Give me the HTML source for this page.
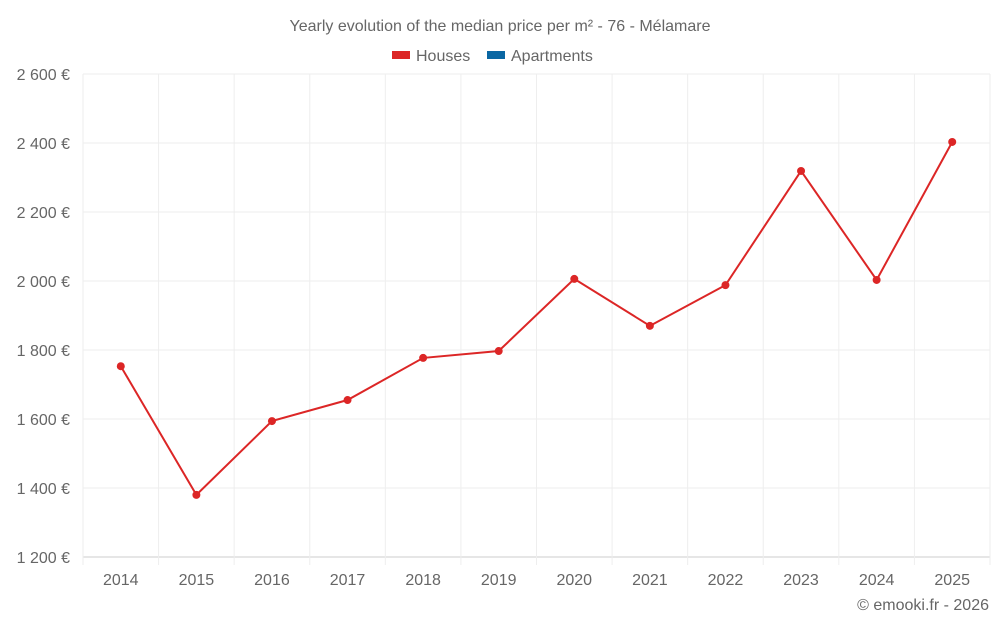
<!DOCTYPE html>
<html><head><meta charset="utf-8"><style>
body{margin:0;background:#fff;font-family:"Liberation Sans",sans-serif;}
svg text{font-family:"Liberation Sans",sans-serif;fill:#666;}
</style></head><body>
<svg id="c" width="1000" height="625">
<text x="500" y="31" text-anchor="middle" font-size="16">Yearly evolution of the median price per m² - 76 - Mélamare</text>
<g>
<rect x="392" y="51" width="18" height="8" fill="#dc2626"/>
<text x="416" y="61" font-size="16">Houses</text>
<rect x="487" y="51" width="18" height="8" fill="#0a67a3"/>
<text x="511" y="61" font-size="16">Apartments</text>
</g>
<g id="grid"></g><g id="axes"></g><g id="series"></g>
<text x="989" y="610" text-anchor="end" font-size="16">© emooki.fr - 2026</text>
</svg>
<script>
const years=["2014","2015","2016","2017","2018","2019","2020","2021","2022","2023","2024","2025"];
const houses=[1753,1380,1594,1655,1777,1797,2006,1870,1988,2319,2003,2403];
const yTicks=[1200,1400,1600,1800,2000,2200,2400,2600];
const yMin=1200,yMax=2600,pTop=74,pBot=557,pLeft=83,pRight=990;
const ns="http://www.w3.org/2000/svg";
const band=(pRight-pLeft)/years.length;
const X=i=>pLeft+band*(i+0.5);
const Y=v=>pBot-(v-yMin)/(yMax-yMin)*(pBot-pTop);
function mk(t,a,p){const e=document.createElementNS(ns,t);for(const k in a)e.setAttribute(k,a[k]);p.appendChild(e);return e;}
const g=document.getElementById('grid'),ax=document.getElementById('axes'),s=document.getElementById('series');
yTicks.forEach(v=>{
const l=mk('line',{x1:pLeft,x2:pRight,y1:Y(v),y2:Y(v),stroke:v===yMin?'#ccc':'#eee'},g);


const t=mk('text',{x:70,y:Y(v)+6,'text-anchor':'end','font-size':16},ax);
t.textContent=String(v).replace(/\B(?=(\d{3})+$)/g,' ')+' €';


});
for(let i=0;i<=years.length;i++){
const x=pLeft+band*i;
const l=mk('line',{x1:x,x2:x,y1:pTop,y2:pBot+8,stroke:'#eee'},g);


}
years.forEach((y,i)=>{
const t=mk('text',{x:X(i),y:585,'text-anchor':'middle','font-size':16},ax);
t.textContent=y;


});
const p=mk('polyline',{points:houses.map((v,i)=>X(i)+','+Y(v)).join(' '),fill:'none',stroke:'#dc2626','stroke-width':2},s);


houses.forEach((v,i)=>{
const c=mk('circle',{cx:X(i),cy:Y(v),r:4,fill:'#dc2626'},s);


});
</script>
</body></html>
